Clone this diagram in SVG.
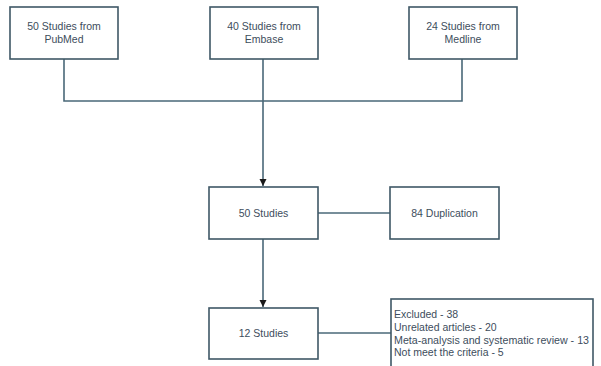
<svg xmlns="http://www.w3.org/2000/svg" width="601" height="366" viewBox="0 0 601 366">
<style>
.box{fill:#fff;stroke:#3f5866;stroke-width:1.6}
.ln{fill:none;stroke:#4a6878;stroke-width:1.6}
text{font-family:"Liberation Sans",Arial,sans-serif;font-size:10.5px;fill:#3d4d5c}
.c{text-anchor:middle}
</style>
<defs>
<marker id="ah" markerWidth="8" markerHeight="8" refX="7" refY="4" orient="auto" markerUnits="userSpaceOnUse">
<path d="M0,0.5 L7,4 L0,7.5 Z" fill="#1a1a1a"/>
</marker>
</defs>
<rect width="601" height="366" fill="#fff"/>
<g id="connectors">
<path class="ln" d="M64,59 V101 H462 V59"/>
<path class="ln" d="M263,59 V186" marker-end="url(#ah)"/>
<path class="ln" d="M318,213 H390"/>
<path class="ln" d="M263,239 V307" marker-end="url(#ah)"/>
<path class="ln" d="M318,333 H391"/>
</g>
<g id="pubmed"><rect class="box" x="10" y="7" width="108" height="52"/><text class="c" x="64" y="30">50 Studies from</text><text class="c" x="64" y="43">PubMed</text></g>
<g id="embase"><rect class="box" x="210" y="7" width="108" height="52"/><text class="c" x="264" y="30">40 Studies from</text><text class="c" x="264" y="43">Embase</text></g>
<g id="medline"><rect class="box" x="409" y="7" width="108" height="52"/><text class="c" x="463" y="30">24 Studies from</text><text class="c" x="463" y="43">Medline</text></g>
<g id="studies50"><rect class="box" x="209" y="187" width="109" height="52"/><text class="c" x="263.5" y="217">50 Studies</text></g>
<g id="duplication"><rect class="box" x="390" y="187" width="109" height="52"/><text class="c" x="444.5" y="217">84 Duplication</text></g>
<g id="studies12"><rect class="box" x="209" y="308" width="109" height="51"/><text class="c" x="263.5" y="337">12 Studies</text></g>
<g id="excluded"><rect class="box" x="391" y="299" width="202" height="75"/>
<text x="394" y="318">Excluded - 38</text>
<text x="394" y="331">Unrelated articles - 20</text>
<text x="394" y="344" textLength="195" lengthAdjust="spacingAndGlyphs">Meta-analysis and systematic review - 13</text>
<text x="394" y="356">Not meet the criteria - 5</text>
</g>
</svg>
